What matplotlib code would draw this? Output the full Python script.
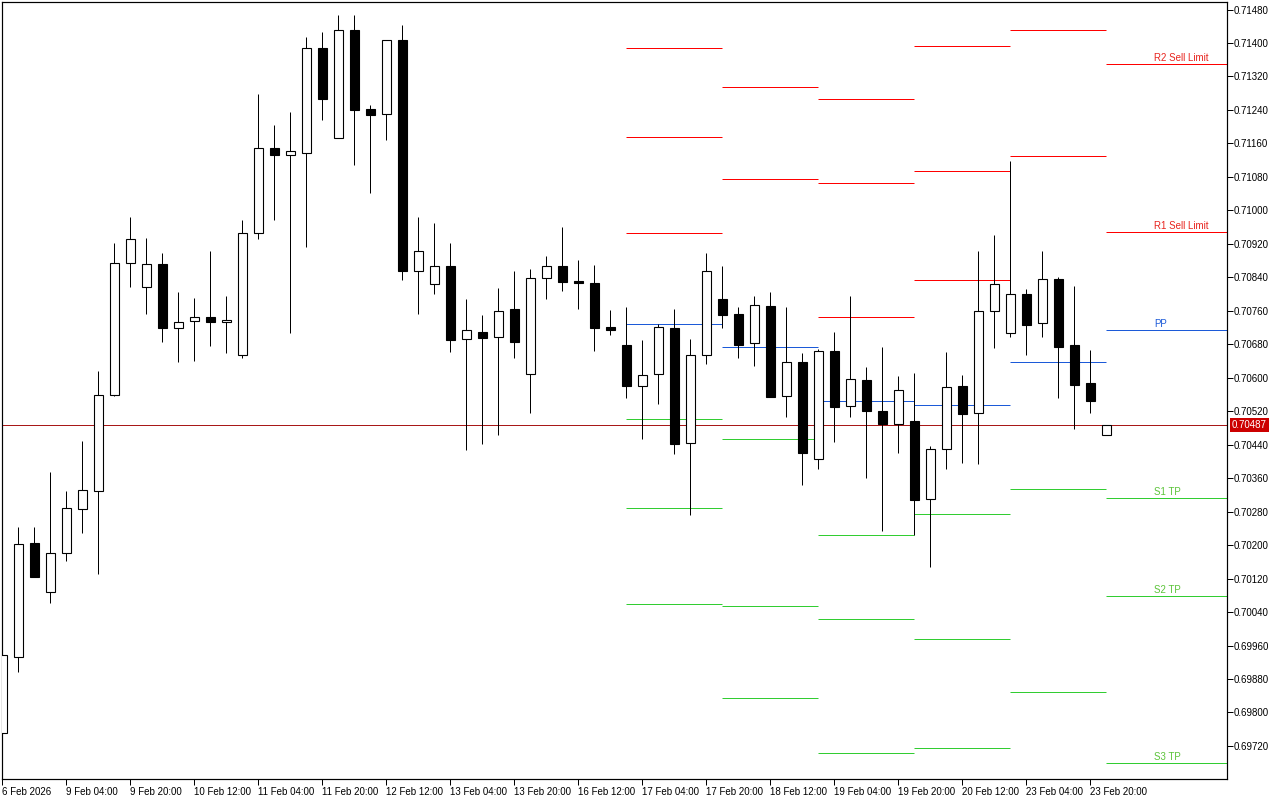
import matplotlib
matplotlib.use('Agg')
import matplotlib.pyplot as plt

plt.rcParams['font.family'] = ['Liberation Sans', 'DejaVu Sans']

# Świece H4 (open, high, low, close)
opens = [0.69751, 0.69933, 0.70206, 0.70088, 0.70182, 0.70287, 0.70330, 0.70559, 0.70875, 0.70818,
         0.70873, 0.70720, 0.70736, 0.70746, 0.70734, 0.70655, 0.70947, 0.71150, 0.71133, 0.71138,
         0.71389, 0.71174, 0.71430, 0.71243, 0.71231, 0.71406, 0.70854, 0.70823, 0.70868, 0.70693,
         0.70710, 0.70698, 0.70765, 0.70610, 0.70839, 0.70868, 0.70832, 0.70827, 0.70722, 0.70679,
         0.70581, 0.70610, 0.70720, 0.70445, 0.70655, 0.70789, 0.70753, 0.70684, 0.70772, 0.70557,
         0.70638, 0.70406, 0.70665, 0.70533, 0.70595, 0.70521, 0.70490, 0.70497, 0.70311, 0.70430,
         0.70581, 0.70516, 0.70760, 0.70708, 0.70801, 0.70732, 0.70837, 0.70679, 0.70588, 0.70464]
highs = [0.69938, 0.70244, 0.70244, 0.70375, 0.70330, 0.70450, 0.70617, 0.70921, 0.70983, 0.70935,
         0.70899, 0.70806, 0.70791, 0.70904, 0.70796, 0.70978, 0.71277, 0.71203, 0.71234, 0.71415,
         0.71427, 0.71466, 0.71466, 0.71251, 0.71408, 0.71442, 0.70985, 0.70971, 0.70923, 0.70789,
         0.70751, 0.70815, 0.70856, 0.70861, 0.70892, 0.70961, 0.70882, 0.70870, 0.70763, 0.70770,
         0.70689, 0.70729, 0.70765, 0.70693, 0.70897, 0.70868, 0.70770, 0.70796, 0.70806, 0.70770,
         0.70658, 0.70669, 0.70710, 0.70796, 0.70626, 0.70674, 0.70605, 0.70612, 0.70438, 0.70662,
         0.70607, 0.70904, 0.70940, 0.71117, 0.70813, 0.70904, 0.70840, 0.70820, 0.70667, 0.70487]
lows = [0.69751, 0.69897, 0.70124, 0.70062, 0.70163, 0.70230, 0.70132, 0.70557, 0.70818, 0.70753,
        0.70686, 0.70638, 0.70641, 0.70677, 0.70658, 0.70646, 0.70932, 0.70978, 0.70708, 0.70913,
        0.71215, 0.71174, 0.71109, 0.71042, 0.71169, 0.70834, 0.70753, 0.70801, 0.70662, 0.70428,
        0.70442, 0.70464, 0.70646, 0.70516, 0.70789, 0.70808, 0.70765, 0.70665, 0.70703, 0.70552,
        0.70454, 0.70538, 0.70418, 0.70273, 0.70634, 0.70720, 0.70646, 0.70629, 0.70555, 0.70505,
        0.70344, 0.70383, 0.70447, 0.70507, 0.70361, 0.70234, 0.70421, 0.70225, 0.70148, 0.70383,
        0.70397, 0.70395, 0.70672, 0.70698, 0.70655, 0.70698, 0.70552, 0.70478, 0.70516, 0.70464]
closes = [0.69938, 0.70203, 0.70124, 0.70182, 0.70289, 0.70332, 0.70559, 0.70875, 0.70932, 0.70873,
          0.70720, 0.70734, 0.70744, 0.70734, 0.70739, 0.70947, 0.71150, 0.71133, 0.71143, 0.71389,
          0.71265, 0.71432, 0.71241, 0.71229, 0.71406, 0.70854, 0.70904, 0.70868, 0.70691, 0.70713,
          0.70696, 0.70760, 0.70686, 0.70839, 0.70868, 0.70830, 0.70827, 0.70720, 0.70713, 0.70581,
          0.70607, 0.70722, 0.70442, 0.70655, 0.70854, 0.70751, 0.70679, 0.70775, 0.70555, 0.70638,
          0.70421, 0.70665, 0.70531, 0.70598, 0.70521, 0.70490, 0.70571, 0.70308, 0.70430, 0.70579,
          0.70514, 0.70760, 0.70825, 0.70801, 0.70727, 0.70837, 0.70674, 0.70583, 0.70545, 0.70487]

x_labels = ['6 Feb 2026', '9 Feb 04:00', '9 Feb 20:00', '10 Feb 12:00', '11 Feb 04:00',
            '11 Feb 20:00', '12 Feb 12:00', '13 Feb 04:00', '13 Feb 20:00', '16 Feb 12:00',
            '17 Feb 04:00', '17 Feb 20:00', '18 Feb 12:00', '19 Feb 04:00', '19 Feb 20:00',
            '20 Feb 12:00', '23 Feb 04:00', '23 Feb 20:00']

# Pivoty dzienne z poprzednich dni (start dnia w indeksie świecy)
seg_start = [39, 45, 51, 57, 63]
seg_res = [[0.71389, 0.71176, 0.70947], [0.71296, 0.71074], [0.71265, 0.71066, 0.70744],
           [0.71394, 0.71095, 0.70834], [0.71430, 0.71129]]
seg_pp = [0.70729, 0.70674, 0.70545, 0.70536, 0.70638]
seg_sup = [[0.70502, 0.70289, 0.70060], [0.70454, 0.70055, 0.69835], [0.70225, 0.70024, 0.69704],
           [0.70275, 0.69976, 0.69715], [0.70335, 0.69849]]

# Bieżący dzień z opisami
cur_names = ['R2 Sell Limit', 'R1 Sell Limit', 'PP', 'S1 TP', 'S2 TP', 'S3 TP']
cur_levels = [0.71351, 0.70949, 0.70715, 0.70313, 0.70079, 0.69680]
cur_kinds = ['r', 'r', 'p', 's', 's', 's']
cur_start = 69

bid = 0.70487
y_ticks = [0.69720 + 0.0008 * k for k in range(23)]

RED = '#FF0000'
BLUE = '#1C5AD8'
GREEN = '#32CD32'
kind_col = {'r': RED, 'p': BLUE, 's': GREEN}
txt_col = {'r': '#E8241E', 'p': '#1C5AD8', 's': '#5CC43A'}

px = 0.72
fig = plt.figure(figsize=(12.8, 8), dpi=100)
ax = fig.add_axes([2 / 1280, 21 / 800, 1225 / 1280, 777 / 800])

xs = list(range(len(opens)))
x_right = 76.54
ax.set_xlim(-0.02, x_right)
ax.set_ylim(0.69641, 0.71498)

# linie pivotów
for i, st in enumerate(seg_start):
    end = st + 6
    for v in seg_res[i]:
        ax.hlines(v, st, end, colors=RED, linewidth=px, zorder=1)
    ax.hlines(seg_pp[i], st, end, colors=BLUE, linewidth=px, zorder=1)
    for v in seg_sup[i]:
        ax.hlines(v, st, end, colors=GREEN, linewidth=px, zorder=1)

for name, v, k in zip(cur_names, cur_levels, cur_kinds):
    ax.hlines(v, cur_start, x_right, colors=kind_col[k], linewidth=px, zorder=1)
    ax.annotate(name, xy=(72, v), xytext=(0, 0.5), textcoords='offset pixels',
                ha='left', va='bottom', fontsize=7, color=txt_col[k], zorder=2)

# linia ceny bid
ax.axhline(bid, color='#A81818', linewidth=px, zorder=1)

# świece
ax.vlines(xs, lows, highs, colors='black', linewidth=px, zorder=3)
bottoms = [min(o, c) for o, c in zip(opens, closes)]
heights = [abs(c - o) for o, c in zip(opens, closes)]
fills = ['white' if c >= o else 'black' for o, c in zip(opens, closes)]
ax.bar(xs, heights, bottom=bottoms, width=0.58, color=fills, edgecolor='black',
       linewidth=px * 1.1, zorder=4)

# osie
for sp in ax.spines.values():
    sp.set_linewidth(px * 1.2)
    sp.set_color('black')
ax.yaxis.tick_right()
ax.set_yticks(y_ticks)
ax.set_yticklabels(['%.5f' % t for t in y_ticks])
ax.set_xticks(list(range(0, len(opens), 4)))
ax.set_xticklabels(x_labels)
ax.tick_params(axis='both', direction='out', length=4, width=px, labelsize=7, colors='black')
ax.tick_params(axis='x', pad=1.5)
ax.tick_params(axis='y', pad=1.0)
for lab in ax.get_xticklabels():
    lab.set_ha('left')

ax.annotate('%.5f' % bid, xy=(1, bid), xycoords=('axes fraction', 'data'),
            xytext=(5, 0), textcoords='offset pixels', ha='left', va='center',
            fontsize=7, color='white',
            bbox=dict(boxstyle='square,pad=0.18', fc='#CC0000', ec='none'),
            annotation_clip=False, zorder=6)

fig.savefig('out.png', dpi=100, facecolor='white')
